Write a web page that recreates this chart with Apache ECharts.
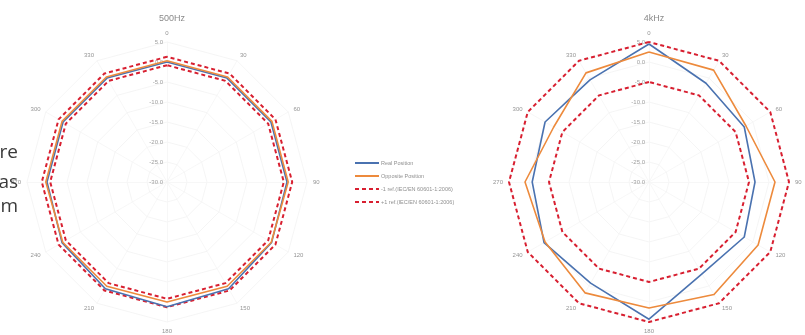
<!DOCTYPE html>
<html>
<head>
<meta charset="utf-8">
<script src="https://cdn.jsdelivr.net/npm/echarts@6/dist/echarts.min.js"></script>
<style>
html,body{margin:0;padding:0;background:#fff;}
#c{width:805px;height:335px;}
</style>
</head>
<body>
<div id="c"></div>
<script>
// Spoke directions in degrees, clockwise from the top
const angles = ['0','30','60','90','120','150','180','210','240','270','300','330'];
// Radial scale (dB)
const ringTicks = [5, 0, -5, -10, -15, -20, -25, -30];
const chartTitles = ['500Hz', '4kHz'];
const seriesNames = ['Real Position', 'Opposite Position', '-1 ref.(IEC/EN 60601-1:2006)', '+1 ref.(IEC/EN 60601-1:2006)'];
// Line endings of the neighbouring body text
const sideText = ['re', 'as', 'm'];

// 500 Hz response, clockwise from 0°
const real500     = [0, 0, 0, 0, 0.2, 0.8, 1.2, 0.8, 0.3, 0, 0, 0];
const opposite500 = [0.3, 0.3, 0.3, 0.3, 0.1, 0.1, 0, 0.1, 0.1, 0.3, 0.3, 0.3];
const lower500    = [-0.8, -0.8, -0.8, -0.8, -0.8, -0.8, -0.8, -0.8, -0.8, -0.8, -0.8, -0.8];
const upper500    = [1.3, 1.3, 1.3, 1.3, 1.3, 1.3, 1.3, 1.3, 1.3, 1.3, 1.3, 1.3];

// 4 kHz response, clockwise from 0°
const real4k      = [4.5, -1.5, -2.5, -3.5, -2.5, -3.5, 4.3, -0.8, 0.3, -0.8, 0, -0.5];
const opposite4k  = [2.5, 2.3, -2, 1.5, 1.5, 2.5, 1.5, 2, 0, 1, -2.5, 1.5];
const lower4k     = [-5, -5, -5, -5, -5, -5, -5, -5, -5, -5, -5, -5];
const upper4k     = [5, 5, 5, 5, 5, 5, 5, 5, 5, 5, 5, 5];

const colors = ['#4a72b0', '#ed8a3c', '#d81f30', '#d81f30'];

// ECharts radar places indicators counter-clockwise, so walk the spokes backwards
const order = angles.map((_, k) => (angles.length - k) % angles.length);
const reorder = arr => order.map(i => arr[i]);

function makeRadar(cx) {
  return {
    center: [cx, 182],
    radius: 140,
    startAngle: 90,
    shape: 'polygon',
    splitNumber: ringTicks.length - 1,
    indicator: order.map((i, k) => {
      const ind = { name: angles[i], min: ringTicks[ringTicks.length - 1], max: ringTicks[0] };
      if (k === 0) {
        ind.axisLabel = {
          show: true, color: '#a0a0a0', fontSize: 6, fontFamily: 'Liberation Sans',
          showMinLabel: true, showMaxLabel: true, margin: 4,
          formatter: v => v.toFixed(1)
        };
      }
      return ind;
    }),
    axisName: { color: '#959595', fontSize: 6, fontFamily: 'Liberation Sans' },
    nameGap: 6,
    axisLine: { lineStyle: { color: '#f5f5f5', width: 0.8 } },
    splitLine: { lineStyle: { color: '#f3f3f3', width: 0.8 } },
    splitArea: { show: false },
    axisTick: { show: false },
    axisLabel: { show: false }
  };
}

function makeSeries(radarIndex, sets) {
  return sets.map((vals, s) => ({
    type: 'radar',
    radarIndex: radarIndex,
    symbol: 'none',
    silent: true,
    z: s < 2 ? 3 : 2,
    data: [{
      name: seriesNames[s],
      value: reorder(vals),
      itemStyle: { color: colors[s] },
      lineStyle: s < 2
        ? { color: colors[s], width: 1.6 }
        : { color: colors[s], width: 2, type: [4, 3] }
    }]
  }));
}

const solidIcon = 'path://M0 0H24V2H0Z';
const dashIcon = 'path://M0 0H4V2H0Z M7 0H11V2H7Z M14 0H18V2H14Z M21 0H24V2H21Z';
const sideY = [153, 183, 207];

const chart = echarts.init(document.getElementById('c'), null, { renderer: 'canvas' });
chart.setOption({
  animation: false,
  backgroundColor: '#ffffff',
  title: [
    { text: chartTitles[0], left: 167, top: 9, textAlign: 'center',
      textStyle: { fontSize: 9, fontWeight: 'normal', color: '#8a8a8a', fontFamily: 'Liberation Sans' } },
    { text: chartTitles[1], left: 649, top: 9, textAlign: 'center',
      textStyle: { fontSize: 9, fontWeight: 'normal', color: '#8a8a8a', fontFamily: 'Liberation Sans' } }
  ],
  legend: {
    orient: 'vertical',
    left: 350, top: 155,
    itemWidth: 24, itemHeight: 2, itemGap: 7,
    selectedMode: false,
    textStyle: { fontSize: 5.5, color: '#909090', fontFamily: 'Liberation Sans', padding: [0, 0, 0, -3] },
    data: seriesNames.map((n, s) => ({ name: n, icon: s < 2 ? solidIcon : dashIcon }))
  },
  radar: [makeRadar(167), makeRadar(649)],
  series: [
    ...makeSeries(0, [real500, opposite500, lower500, upper500]),
    ...makeSeries(1, [real4k, opposite4k, lower4k, upper4k])
  ],
  graphic: sideText.map((t, i) => ({
    type: 'text', z: 10,
    style: { text: t, x: 18, y: sideY[i], align: 'right', verticalAlign: 'middle',
             font: '19px "Open Sans"', fill: '#3a3a3a' }
  }))
});
</script>
</body>
</html>
